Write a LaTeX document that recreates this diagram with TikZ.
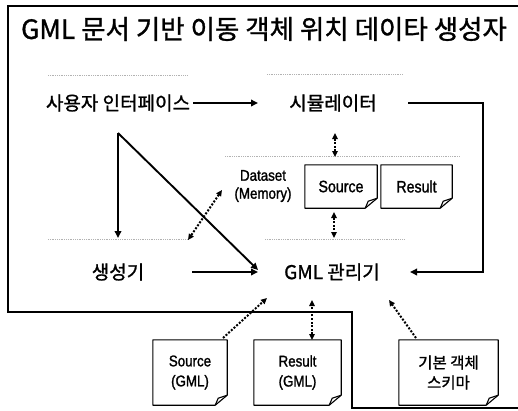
\documentclass[tikz,border=0pt]{standalone}
\usepackage{fontspec}
\setmainfont{Liberation Sans}
\newfontfamily\kr[FakeBold=1.2]{Noto Sans CJK KR}
\newfontfamily\narrowf[FakeStretch=0.86,FakeBold=1.4]{Liberation Sans}
\usetikzlibrary{arrows.meta}
\begin{document}
\begin{tikzpicture}[x=1pt,y=-1pt,
  conn/.style={line width=1.9pt},
  arr/.style={conn,-{Triangle[length=7pt,width=6.5pt]}},
  dots/.style={line width=2pt,dash pattern=on 2pt off 1.6pt},
  darr/.style={dots,{Triangle[length=6pt,width=5.5pt]}-{Triangle[length=6pt,width=5.5pt]}},
  sarr/.style={dots,-{Triangle[length=6pt,width=5.5pt]}},
  glow/.style={gray!60,line width=0.8pt,densely dotted},
  lab/.style={font=\kr\fontsize{19}{21}\selectfont,inner sep=0pt},
  doc/.style={inner sep=0pt,align=center},
  docline/.style={line width=1.1pt,line join=round}
]
\useasboundingbox (0,0) rectangle (518,410);
\fill[white] (0,0) rectangle (518,410);

% outer frame
\draw[line width=1.4pt] (518,6) -- (8,6) -- (8,312) -- (352,312) -- (352,408) -- (518,408);

% title
\node[font=\kr\fontsize{26.5}{30}\selectfont,inner sep=0pt] (title) at (264,29) {GML 문서 기반 이동 객체 위치 데이타 생성자};

% faint panel edges
\draw[glow] (48,75) -- (188,75);
\draw[glow] (267,74) -- (403,74);
\draw[glow] (225,156) -- (460,156);
\draw[glow] (48,239) -- (190,239);
\draw[glow] (265,239) -- (405,239);

% labels
\node[lab] (ui) at (118,103) {사용자 인터페이스};
\node[lab] (sim) at (333,103) {시뮬레이터};
\node[lab] (gen) at (118,272) {생성기};
\node[lab] (gml) at (332,272) {GML 관리기};
\node[doc,font=\narrowf\fontsize{15.5}{18}\selectfont] (ds) at (263,186) {Dataset\\(Memory)};

% documents
\node[doc,minimum width=72pt,minimum height=43pt,font=\narrowf\fontsize{16.5}{18}\selectfont] (src) at (341,186.5) {Source};
\node[doc,minimum width=71pt,minimum height=43pt,font=\narrowf\fontsize{16.5}{18}\selectfont] (res) at (416.5,186.5) {Result};
\node[doc,minimum width=74pt,minimum height=65pt,font=\narrowf\fontsize{15.5}{20}\selectfont] (srcg) at (190,372.5) {Source\\(GML)};
\node[doc,minimum width=87pt,minimum height=65pt,font=\narrowf\fontsize{15.5}{20}\selectfont] (resg) at (297.5,372.5) {Result\\(GML)};
\node[doc,minimum width=99pt,minimum height=65pt,font=\kr\fontsize{15.5}{20}\selectfont] (schema) at (448.5,372.5) {기본 객체\\스키마};
\foreach \n in {src,res,srcg,resg,schema}{
  \draw[docline] (\n.north west) -- (\n.north east) -- ([yshift=10pt]\n.south east)
    -- ([xshift=-12pt]\n.south east) -- (\n.south west) -- cycle;
  \draw[docline] ([yshift=10pt]\n.south east) -- ([xshift=-9pt,yshift=7pt]\n.south east)
    -- ([xshift=-12pt]\n.south east);
}

% solid connectors
\coordinate (uiR) at (193,103);
\coordinate (simL) at (258,103);
\draw[arr] (uiR) -- (simL);
\coordinate (simR) at (408,103);
\coordinate (rc1) at (483,103);
\coordinate (rc2) at (483,272);
\coordinate (gmlR) at (410,272);
\draw[arr] (simR) -- (rc1) -- (rc2) -- (gmlR);
\coordinate (v) at (118,133);
\coordinate (genT) at (118,238);
\coordinate (gmlL) at (258,270);
\draw[arr] (v) -- (genT);
\draw[arr] (v) -- (gmlL);
\coordinate (genR) at (192,272);
\coordinate (gmlL2) at (258,272);
\draw[arr] (genR) -- (gmlL2);

% dotted connectors
\coordinate (simB) at (335,133);
\coordinate (dsT) at (335,157);
\draw[darr] (simB) -- (dsT);
\coordinate (dsB) at (334,212);
\coordinate (gmlT) at (334,238);
\draw[darr] (dsB) -- (gmlT);
\coordinate (dsL) at (222,190);
\coordinate (genTR) at (188,240);
\draw[darr] (dsL) -- (genTR);
\coordinate (srcgT) at (223,338);
\coordinate (gmlB1) at (267,298);
\draw[sarr] (srcgT) -- (gmlB1);
\coordinate (resgT) at (312,340);
\coordinate (gmlB2) at (312,300);
\draw[darr] (resgT) -- (gmlB2);
\coordinate (schT) at (416,338);
\coordinate (gmlB3) at (389,300);
\draw[sarr] (schT) -- (gmlB3);
\end{tikzpicture}
\end{document}
